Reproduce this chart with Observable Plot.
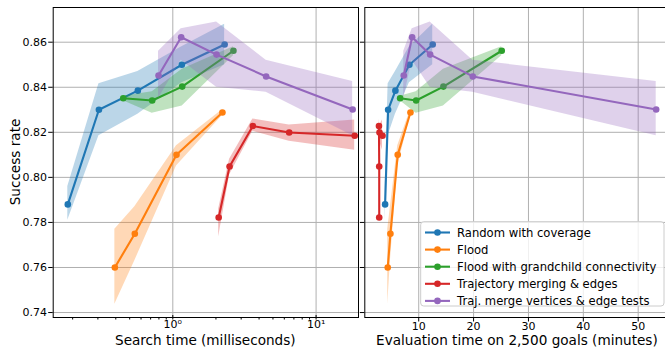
<!DOCTYPE html>
<html><head><meta charset="utf-8">
<script src="https://cdn.jsdelivr.net/npm/d3@7"></script>
<script src="https://cdn.jsdelivr.net/npm/@observablehq/plot@0.6"></script>
<style>
html,body{margin:0;padding:0;background:#fff}
body{width:665px;height:352px;overflow:hidden;position:relative;font-family:"DejaVu Sans";color:#000}
#left,#right,#legend{position:absolute;top:0}
#left{left:0;width:360px;height:352px}
#right{left:360px;width:312px;height:352px}
#left svg,#right svg{max-width:none !important;height:352px !important}
.lab{position:absolute;font-size:13.6px;line-height:0.8;white-space:nowrap;transform:translate(-50%,-50%)}
</style></head><body>
<div id="left"></div><div id="right"></div>
<div class="lab" style="left:205.3px;top:340px">Search time (milliseconds)</div>
<div class="lab" style="left:516.9px;top:340px">Evaluation time on 2,500 goals (minutes)</div>
<div class="lab" style="left:14.5px;top:162px;transform:translate(-50%,-50%) rotate(-90deg)">Success rate</div>
<div id="legend"></div>
<script>
// ---- data ----
const seriesNames = ["Random with coverage","Flood","Flood with grandchild connectivity","Trajectory merging & edges","Traj. merge vertices & edge tests"];
const seriesColors = ["#1f77b4","#ff7f0e","#2ca02c","#d62728","#9467bd"];

const randSearchMs = [0.185, 0.305, 0.570, 1.156, 2.30];
const randEvalMin  = [3.87, 4.42, 5.75, 8.30, 12.55];
const randRate     = [0.788, 0.830, 0.8385, 0.850, 0.859];
const randLo       = [0.781, 0.8185, 0.828, 0.842, 0.850];
const randHi       = [0.796, 0.8415, 0.847, 0.858, 0.868];

const floodSearchMs = [0.394, 0.543, 1.061, 2.22];
const floodEvalMin  = [4.35, 4.84, 6.17, 8.49];
const floodRate     = [0.760, 0.775, 0.810, 0.8288];
const floodLo       = [0.7437, 0.763, 0.805, 0.8275];
const floodHi       = [0.777, 0.787, 0.814, 0.830];

const gcSearchMs = [0.451, 0.718, 1.163, 2.65];
const gcEvalMin  = [6.61, 9.53, 14.5, 25.13];
const gcRate     = [0.8351, 0.8341, 0.8403, 0.8562];
const gcLo       = [0.834, 0.8285, 0.8317, 0.854];
const gcHi       = [0.836, 0.838, 0.848, 0.858];

const tmeSearchMs = [2.09, 2.49, 3.62, 6.49, 18.6];
const tmeEvalMin  = [2.8, 2.8, 2.75, 2.85, 3.4];
const tmeRate     = [0.7822, 0.8048, 0.8228, 0.8199, 0.8185];
const tmeLo       = [0.7735, 0.801, 0.8205, 0.816, 0.812];
const tmeHi       = [0.786, 0.808, 0.8259, 0.8233, 0.8255];

const tmvSearchMs = [0.795, 1.144, 2.02, 4.48, 18.0];
const tmvEvalMin  = [7.27, 8.8, 12.08, 19.85, 53.28];
const tmvRate     = [0.8452, 0.8622, 0.8545, 0.8448, 0.8301];
const tmvLo       = [0.835, 0.852, 0.840, 0.8378, 0.8185];
const tmvHi       = [0.856, 0.866, 0.869, 0.852, 0.8425];

const yTicks = [0.74, 0.76, 0.78, 0.80, 0.82, 0.84, 0.86];
const leftMajorTicks = [1, 10];
const leftMajorLabels = ["10\u2070", "10\u00B9"];
const leftMinorTicks = [0.2,0.3,0.4,0.5,0.6,0.7,0.8,0.9,2,3,4,5,6,7,8,9];
const rightTicks = [10, 20, 30, 40, 50];

// ---- build tables ----
const raw = [
  [randSearchMs, randEvalMin, randRate, randLo, randHi],
  [floodSearchMs, floodEvalMin, floodRate, floodLo, floodHi],
  [gcSearchMs, gcEvalMin, gcRate, gcLo, gcHi],
  [tmeSearchMs, tmeEvalMin, tmeRate, tmeLo, tmeHi],
  [tmvSearchMs, tmvEvalMin, tmvRate, tmvLo, tmvHi]
];
const series = raw.map(([s, e, r, lo, hi], k) =>
  s.map((v, i) => ({name: seriesNames[k], ms: v, min: e[i], rate: r[i], lo: lo[i], hi: hi[i]})));

const yDomain = [0.7378, 0.8754];
const gridStyle = {stroke: "#b0b0b0", strokeOpacity: 1, strokeWidth: 1};
const baseStyle = {fontFamily: "DejaVu Sans", fontSize: "11px", color: "black", background: "transparent", overflow: "visible", maxWidth: "none"};

function seriesMarks(xKey) {
  const m = [];
  series.forEach((d, k) => {
    m.push(Plot.areaY(d, {x: xKey, y1: "lo", y2: "hi", fill: seriesColors[k], fillOpacity: 0.3}));
    m.push(Plot.line(d, {x: xKey, y: "rate", stroke: seriesColors[k], strokeWidth: 2.1}));
    m.push(Plot.dot(d, {x: xKey, y: "rate", fill: seriesColors[k], r: 3.3, stroke: "none"}));
  });
  return m;
}

const left = Plot.plot({
  width: 360, height: 352,
  marginTop: 7, marginBottom: 35, marginLeft: 52.7, marginRight: 2,
  style: baseStyle,
  x: {type: "log", domain: [0.1463, 19.77], label: null},
  y: {domain: yDomain, label: null},
  marks: [
    Plot.gridX(leftMajorTicks, gridStyle),
    Plot.gridY(yTicks, gridStyle),
    ...seriesMarks("ms"),
    Plot.frame({stroke: "black", strokeWidth: 1}),
    Plot.axisY(yTicks, {tickSize: 4.5, tickPadding: 1.8, tickFormat: d3.format(".2f"), label: null}),
    Plot.axisX(leftMajorTicks, {tickSize: 4.5, tickPadding: 0.5, dy: -2, tickFormat: d => leftMajorLabels[leftMajorTicks.indexOf(d)], label: null}),
    Plot.axisX(leftMinorTicks, {tickSize: 2.5, tickFormat: () => "", label: null})
  ]
});
document.getElementById("left").appendChild(left);

const right = Plot.plot({
  width: 312, height: 352,
  marginTop: 7, marginBottom: 35, marginLeft: 4.3, marginRight: 2.5,
  style: baseStyle,
  x: {domain: [0.17, 55.8], label: null},
  y: {domain: yDomain, label: null},
  marks: [
    Plot.gridX(rightTicks, gridStyle),
    Plot.gridY(yTicks, gridStyle),
    ...seriesMarks("min"),
    Plot.frame({stroke: "black", strokeWidth: 1}),
    Plot.axisY(yTicks, {tickSize: 4.5, tickFormat: () => "", label: null}),
    Plot.axisX(rightTicks, {tickSize: 4.5, tickPadding: 0.5, tickFormat: d => String(d), label: null})
  ]
});
document.getElementById("right").appendChild(right);

// ---- legend ----
const lg = d3.select("#legend").append("svg")
  .attr("width", 665).attr("height", 352)
  .style("position", "absolute").style("left", "0px").style("top", "0px")
  .style("font-family", "DejaVu Sans").style("overflow", "visible");
lg.append("rect").attr("x", 420.7).attr("y", 221.7).attr("width", 243.3).attr("height", 84.3)
  .attr("rx", 3).attr("fill", "white").attr("fill-opacity", 0.8).attr("stroke", "#cccccc").attr("stroke-width", 1);
seriesNames.forEach((n, i) => {
  const cy = 232.5 + i * 17.1;
  lg.append("line").attr("x1", 425).attr("x2", 450).attr("y1", cy).attr("y2", cy)
    .attr("stroke", seriesColors[i]).attr("stroke-width", 2.1);
  lg.append("circle").attr("cx", 437.5).attr("cy", cy).attr("r", 3.3).attr("fill", seriesColors[i]);
  lg.append("text").attr("x", 457).attr("y", cy).attr("dy", "0.36em")
    .attr("font-size", "11.6px").attr("fill", "black").text(n);
});
</script>
</body></html>
